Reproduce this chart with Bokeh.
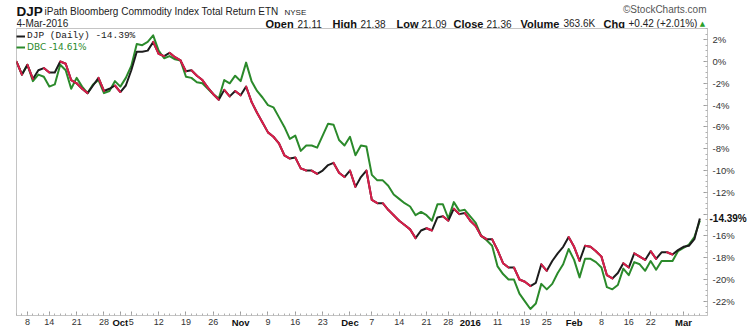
from bokeh.plotting import figure
from bokeh.layouts import column
from bokeh.models import Range1d, FixedTicker, Legend, LegendItem, ColumnDataSource, LinearAxis
from bokeh.core.properties import value
from bokeh.embed import file_html
from bokeh.resources import INLINE

# ---- data (percent change since start, one value per trading day) ----
first_idx = -2  # trading-day index of first value (Sep 8 2015 = 0)
djp = [0.0, -1.2, -0.3, -1.6, -0.8, -0.6, -1.0, -1.0, 0.0, -0.2,
       -1.7, -2.0, -2.5, -2.9, -2.2, -1.5, -2.7, -2.5, -2.2, -2.8,
       -2.2, -0.8, 0.9, 0.9, 1.0, 1.8, 0.7, 0.5, 0.8, 0.4,
       0.1, -0.9, -0.8, -1.3, -1.7, -2.4, -3.0, -3.5, -2.6, -3.2,
       -2.7, -3.1, -2.3, -3.7, -4.7, -5.6, -6.5, -6.9, -7.5, -8.6,
       -8.9, -8.8, -9.8, -10.0, -10.0, -10.3, -10.0, -9.5, -9.3, -10.2,
       -10.6, -10.0, -11.5, -10.6, -10.0, -12.7, -13.0, -13.0, -13.6, -14.1,
       -14.6, -15.0, -15.4, -16.2, -15.5, -15.3, -15.5, -14.3, -14.2, -14.6,
       -13.5, -14.0, -13.9, -14.6, -15.1, -16.0, -16.3, -16.3, -17.3, -18.5,
       -18.9, -18.9, -20.0, -20.2, -20.6, -20.3, -18.6, -19.2, -18.3, -17.6,
       -17.0, -16.1, -17.0, -18.3, -16.9, -17.0, -17.4, -17.9, -19.6, -19.9,
       -19.4, -18.5, -18.9, -17.6, -17.9, -18.2, -17.4, -18.1, -17.5, -17.5,
       -17.7, -17.3, -17.0, -16.9, -16.3, -14.39]
dbc = [0.0, -1.2, -0.3, -1.8, -1.2, -1.4, -2.3, -2.1, -0.3, -0.8,
       -2.5, -1.5, -2.3, -2.9, -2.1, -1.7, -2.9, -2.7, -1.8, -2.3,
       -1.5, -0.4, 1.6, 1.5, 1.8, 2.4, 1.0, 0.3, 0.5, 0.2,
       0.1, -1.4, -1.5, -1.9, -2.0, -2.5, -3.0, -3.4, -1.7, -2.0,
       -1.3, -1.8, -0.1, -1.8, -2.7, -3.3, -4.0, -4.2, -5.1, -6.0,
       -7.1, -6.8, -8.2, -7.7, -7.7, -7.9, -6.8, -5.7, -5.8, -7.2,
       -7.7, -6.9, -8.6, -7.7, -7.8, -10.4, -10.9, -10.9, -11.4, -12.2,
       -12.6, -13.0, -13.3, -14.1, -13.8, -14.1, -14.6, -13.1, -13.1, -14.4,
       -12.9, -13.7, -13.6, -14.2, -14.8, -16.0, -16.4, -16.9, -18.8, -19.5,
       -20.0, -20.0, -21.3, -22.0, -22.7, -22.2, -20.4, -20.9, -20.4, -19.4,
       -18.6, -17.2, -18.2, -19.8, -18.1, -18.1, -18.4, -18.9, -20.7, -20.9,
       -20.5, -19.0, -19.6, -18.4, -18.6, -19.2, -18.3, -19.1, -18.3, -18.3,
       -18.3, -17.4, -17.1, -16.8, -16.1, -14.61]
days = list(range(first_idx, first_idx + len(djp)))

day_ticks = [0, 4, 9, 14, 19, 24, 29, 34, 44, 49, 54, 63, 68, 73, 77, 86, 91, 95, 105, 110, 114]
day_labels = ["8", "14", "21", "28", "5", "12", "19", "26", "9", "16", "23", "7", "14", "21", "28",
              "11", "19", "25", "8", "16", "22"]
month_ticks = [17, 39, 59, 81, 100, 120]
month_labels = ["Oct", "Nov", "Dec", "2016", "Feb", "Mar"]
y_ticks = list(range(-22, 3, 2))
y_labels = [f"{v}%" for v in y_ticks]

GREEN = "#2b8a2b"
RED = "#d81e4a"
BLACK = "#1c1c1c"
FONT = "Liberation Sans"

W = 750
HH = 28            # header strip height
HM = 333 - HH      # main figure height
BOT, LEFT, RIGHT = 18, 16, 43
FH = HM - BOT

# ---------------- header strip ----------------
# (its frame is aligned with the chart frame by the column layout, so the
#  x range is given in page pixels from LEFT to W - RIGHT)
h = figure(width=W, height=HH, output_backend="svg", toolbar_location=None,
           x_range=Range1d(LEFT, W - RIGHT), y_range=Range1d(HH, 0),
           x_axis_location=None, y_axis_location=None,
           min_border=0, min_border_left=LEFT, min_border_right=RIGHT, min_border_top=0, min_border_bottom=0)
h.grid.visible = False
h.outline_line_color = None

L1, L2 = 11, 23
header = [
    ("DJP", 16, L1, "bold", "13.5px", "#111111", "left"),
    ("iPath Bloomberg Commodity Index Total Return ETN", 44, L1, "normal", "10px", "#222222", "left"),
    ("NYSE", 284, L1 + 0.5, "normal", "8px", "#222222", "left"),
    ("4-Mar-2016", 16, L2, "normal", "10px", "#222222", "left"),
    ("Open", 265, L2, "bold", "11px", "#111111", "left"),
    ("21.11", 297, L2, "normal", "10px", "#222222", "left"),
    ("High", 332, L2, "bold", "11px", "#111111", "left"),
    ("21.38", 360, L2, "normal", "10px", "#222222", "left"),
    ("Low", 396, L2, "bold", "11px", "#111111", "left"),
    ("21.09", 421, L2, "normal", "10px", "#222222", "left"),
    ("Close", 453, L2, "bold", "11px", "#111111", "left"),
    ("21.36", 486, L2, "normal", "10px", "#222222", "left"),
    ("Volume", 520, L2, "bold", "11px", "#111111", "left"),
    ("363.6K", 563, L2, "normal", "10px", "#222222", "left"),
    ("Chg", 603, L2, "bold", "11px", "#111111", "left"),
    ("+0.42 (+2.01%)", 628, L2, "normal", "10px", "#222222", "left"),
    ("\u00a9StockCharts.com", 706, 9, "normal", "10px", "#555555", "right"),
]
for text, px, py, style, size, col, align in header:
    h.text(x=[px], y=[py], text=[text], text_font=value(FONT), text_font_style=style,
           text_font_size=value(size), text_color=col, text_align=align, text_baseline="middle")
h.text(x=[702], y=[L2], text=["\u25b2"], text_font=value("DejaVu Sans"), text_font_size=value("7px"),
       text_color="#2aa02a", text_align="center", text_baseline="middle")

# ---------------- main chart ----------------
p = figure(width=W, height=HM, output_backend="svg", toolbar_location=None,
           x_range=Range1d(-2, 124.4), y_range=Range1d(-23.3, 3.03),
           x_axis_location="below", y_axis_location="right",
           min_border_top=0, min_border_bottom=BOT, min_border_left=LEFT, min_border_right=RIGHT,
           background_fill_color="white", border_fill_color="white")
p.grid.visible = False
p.outline_line_color = "#c4c4c4"

xa = p.xaxis[0]
xa.ticker = FixedTicker(ticks=day_ticks + month_ticks, minor_ticks=days)
ov = {t: l for t, l in zip(day_ticks, day_labels)}
ov.update({t: "" for t in month_ticks})
xa.major_label_overrides = ov
xa.axis_line_color = "#c4c4c4"
xa.major_tick_in = 4
xa.major_tick_out = 0
xa.minor_tick_in = 2
xa.minor_tick_out = 0
xa.major_tick_line_color = "#9a9a9a"
xa.minor_tick_line_color = "#b0b0b0"
xa.major_label_standoff = 3
xa.major_label_text_font = FONT
xa.major_label_text_font_size = "9px"
xa.major_label_text_color = "#333333"

xm = LinearAxis(ticker=FixedTicker(ticks=month_ticks, minor_ticks=[]),
                major_label_overrides={t: l for t, l in zip(month_ticks, month_labels)},
                axis_line_color=None, major_tick_line_color=None, minor_tick_line_color=None,
                major_tick_in=0, major_tick_out=0, major_label_standoff=-11,
                major_label_text_font=FONT, major_label_text_font_style="bold",
                major_label_text_font_size="9.5px", major_label_text_color="#111111")
p.add_layout(xm, "below")

ya = p.yaxis[0]
ya.ticker = FixedTicker(ticks=y_ticks, minor_ticks=[v / 2 for v in range(-46, 7)])
yo = {t: l for t, l in zip(y_ticks, y_labels)}
yo[-14] = ""
ya.major_label_overrides = yo
ya.axis_line_color = "#c4c4c4"
ya.major_tick_in = 4
ya.major_tick_out = 0
ya.minor_tick_in = 2
ya.minor_tick_out = 0
ya.major_tick_line_color = "#9a9a9a"
ya.minor_tick_line_color = "#b0b0b0"
ya.major_label_standoff = 5
ya.major_label_text_font = FONT
ya.major_label_text_font_size = "9.5px"
ya.major_label_text_color = "#333333"

last = djp[-1]
ytag = LinearAxis(ticker=FixedTicker(ticks=[last], minor_ticks=[]),
                  major_label_overrides={last: f"{last:.2f}%"},
                  axis_line_color=None, major_tick_line_color=None, minor_tick_line_color=None,
                  major_tick_in=0, major_tick_out=0, major_label_standoff=-28,
                  major_label_text_font=FONT, major_label_text_font_style="bold",
                  major_label_text_font_size="10px", major_label_text_color="#111111")
p.add_layout(ytag, "right")

g_line = p.line(days, dbc, line_color=GREEN, line_width=2, line_join="round")
d_line = p.line(days, djp, line_color=BLACK, line_width=2, line_join="round")
down = [k for k in range(len(djp) - 1) if djp[k + 1] < djp[k]]
seg = ColumnDataSource(dict(x0=[days[k] for k in down], y0=[djp[k] for k in down],
                            x1=[days[k + 1] for k in down], y1=[djp[k + 1] for k in down]))
p.segment("x0", "y0", "x1", "y1", source=seg, line_color=RED, line_width=2, line_cap="round")

leg1 = Legend(items=[LegendItem(label="DJP (Daily) -14.39%", renderers=[d_line])],
              location=(0, FH - 13), orientation="vertical",
              label_text_font="Liberation Mono", label_text_font_size="9.5px", label_text_color=BLACK,
              glyph_width=9, glyph_height=10, label_height=10, label_standoff=2, spacing=0,
              padding=1, margin=0, border_line_color=None, background_fill_alpha=0)
leg2 = Legend(items=[LegendItem(label="DBC -14.61%", renderers=[g_line])],
              location=(0, FH - 24), orientation="vertical",
              label_text_font="DejaVu Sans", label_text_font_size="9px", label_text_color=GREEN,
              glyph_width=9, glyph_height=10, label_height=10, label_standoff=2, spacing=0,
              padding=1, margin=0, border_line_color=None, background_fill_alpha=0)
p.add_layout(leg1)
p.add_layout(leg2)

layout = column(h, p, spacing=0)
open("out.html", "w").write(file_html(layout, INLINE))
